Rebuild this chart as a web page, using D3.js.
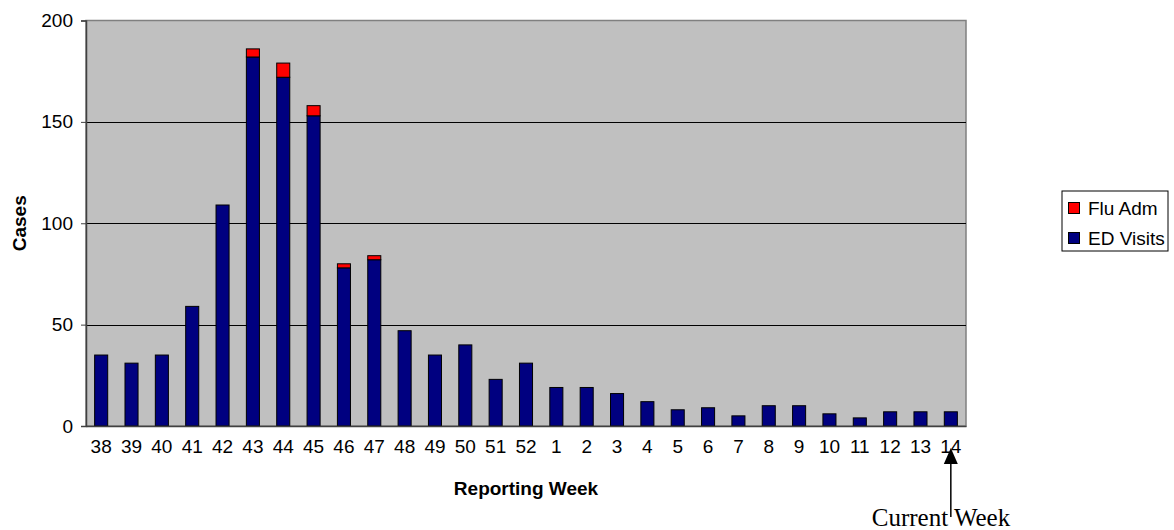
<!DOCTYPE html>
<html>
<head>
<meta charset="utf-8">
<script src="https://cdn.jsdelivr.net/npm/d3@7"></script>
<style>
  html, body { margin: 0; padding: 0; background: #ffffff; }
  svg { display: block; }
</style>
</head>
<body>
<svg id="chart" width="1174" height="530"></svg>
<script>
const weeks = ["38","39","40","41","42","43","44","45","46","47","48","49","50","51","52","1","2","3","4","5","6","7","8","9","10","11","12","13","14"];
const edVisits = [35,31,35,59,109,182,172,153,78,82,47,35,40,23,31,19,19,16,12,8,9,5,10,10,6,4,7,7,7];
const fluAdm   = [0,0,0,0,0,4,7,5,2,2,0,0,0,0,0,0,0,0,0,0,0,0,0,0,0,0,0,0,0];
const yTicks = [0,50,100,150,200];
const seriesNames = ["ED Visits","Flu Adm"];
const seriesColors = ["#000080","#FF0000"];
const legendOrder = ["Flu Adm","ED Visits"];
const annotationText = "Current Week";
const annotationWeek = "14";

const svg = d3.select("#chart");
const pLeft = 86, pRight = 966, pTop = 20.5, pBottom = 426;

const x = d3.scaleBand().domain(weeks).range([pLeft, pRight]).paddingInner(0.57).paddingOuter(0.285);
const y = d3.scaleLinear().domain([0, 200]).range([pBottom, pTop]);
const color = d3.scaleOrdinal().domain(seriesNames).range(seriesColors);

// plot area
svg.append("rect").attr("x", pLeft).attr("y", pTop).attr("width", pRight - pLeft).attr("height", pBottom - pTop)
  .attr("fill", "#C0C0C0").attr("stroke", "#808080").attr("stroke-width", 1.5);

// gridlines
svg.append("g").selectAll("line").data(yTicks.filter(d => d > 0 && d < 200)).join("line")
  .attr("x1", pLeft).attr("x2", pRight)
  .attr("y1", d => Math.round(y(d)) + 0.5).attr("y2", d => Math.round(y(d)) + 0.5)
  .attr("stroke", "#000").attr("stroke-width", 1);

// stacked data
const table = weeks.map((w, i) => ({week: w, "ED Visits": edVisits[i], "Flu Adm": fluAdm[i]}));
const stacked = d3.stack().keys(seriesNames)(table);

svg.append("g").selectAll("g").data(stacked).join("g")
  .attr("fill", d => color(d.key))
  .selectAll("rect").data(d => d.filter(p => p[1] - p[0] > 0)).join("rect")
  .attr("x", d => x(d.data.week))
  .attr("width", x.bandwidth())
  .attr("y", d => y(d[1]))
  .attr("height", d => y(d[0]) - y(d[1]))
  .attr("stroke", "#000").attr("stroke-width", 1);

// y axis
const yAxis = d3.axisLeft(y).tickValues(yTicks).tickSize(5).tickPadding(8);
const gy = svg.append("g").attr("transform", `translate(${pLeft},0)`).call(yAxis);
gy.select(".domain").attr("stroke", "#404040").attr("stroke-width", 1.5);
gy.selectAll(".tick line").attr("stroke", "#404040");
gy.selectAll("text").attr("font-family", "Arial, 'Liberation Sans', sans-serif").attr("font-size", 19).attr("fill", "#000");

// x axis
const xAxis = d3.axisBottom(x).tickSize(0).tickPadding(14);
const gx = svg.append("g").attr("transform", `translate(0,${pBottom})`).call(xAxis);
gx.select(".domain").attr("stroke", "#404040").attr("stroke-width", 1.5);
gx.selectAll("text").attr("font-family", "Arial, 'Liberation Sans', sans-serif").attr("font-size", 19).attr("fill", "#000");

// axis titles
svg.append("text").attr("x", (pLeft + pRight) / 2).attr("y", 495).attr("text-anchor", "middle")
  .attr("font-family", "Arial, 'Liberation Sans', sans-serif").attr("font-weight", "bold").attr("font-size", 19)
  .text("Reporting Week");
svg.append("text").attr("transform", `translate(26,${(pTop + pBottom) / 2}) rotate(-90)`).attr("text-anchor", "middle")
  .attr("font-family", "Arial, 'Liberation Sans', sans-serif").attr("font-weight", "bold").attr("font-size", 19)
  .text("Cases");

// legend
const lg = svg.append("g");
lg.append("rect").attr("x", 1062).attr("y", 191).attr("width", 106).attr("height", 60)
  .attr("fill", "#fff").attr("stroke", "#000").attr("stroke-width", 1);
legendOrder.forEach((name, i) => {
  const cy = 208 + i * 30;
  lg.append("rect").attr("x", 1068.5).attr("y", cy - 5.5).attr("width", 11).attr("height", 11)
    .attr("fill", color(name)).attr("stroke", "#000").attr("stroke-width", 1);
  lg.append("text").attr("x", 1088).attr("y", cy + 7)
    .attr("font-family", "Arial, 'Liberation Sans', sans-serif").attr("font-size", 19).text(name);
});

// annotation arrow
const ax = x(annotationWeek) + x.bandwidth() / 2;
svg.append("line").attr("x1", ax).attr("x2", ax).attr("y1", 517).attr("y2", 460)
  .attr("stroke", "#000").attr("stroke-width", 1.5);
svg.append("path").attr("d", `M${ax},448 L${ax - 7},464 L${ax + 7},464 Z`).attr("fill", "#000");
svg.append("text").attr("x", 941).attr("y", 526).attr("text-anchor", "middle")
  .attr("font-family", "'Times New Roman', 'Liberation Serif', serif").attr("font-size", 25)
  .text(annotationText);
</script>
</body>
</html>
